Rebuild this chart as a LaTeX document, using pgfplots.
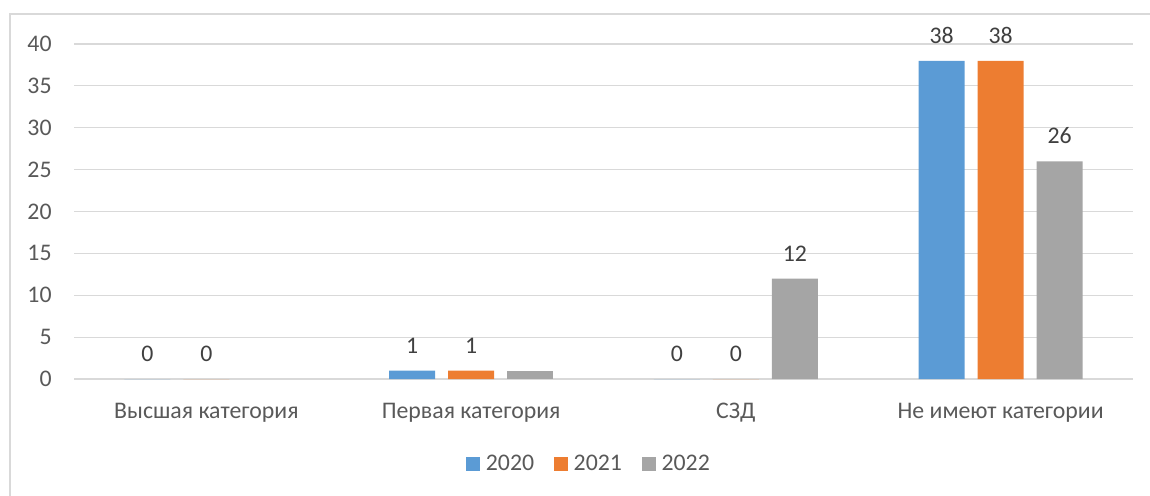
\documentclass[border=0pt]{standalone}
\usepackage{pgfplots}
\pgfplotsset{compat=1.18}
\usepackage{fontspec}
\setmainfont{Carlito}
\definecolor{c2020}{HTML}{5B9BD5}
\definecolor{c2021}{HTML}{ED7D31}
\definecolor{c2022}{HTML}{A5A5A5}
\definecolor{gridc}{HTML}{D9D9D9}
\definecolor{tickc}{HTML}{595959}
\definecolor{labc}{HTML}{404040}
\newcommand{\cf}{\fontsize{11.9}{14.3}\selectfont}
\begin{document}
\begin{tikzpicture}
\useasboundingbox (0,0) rectangle (575pt,247.5pt);
\begin{scope}
\clip (0,0) rectangle (575pt,247.5pt);
\draw[gridc, line width=0.6pt] (5pt,-10pt) rectangle (600pt,240.5pt);
\end{scope}
\begin{axis}[
  at={(37pt,58pt)}, anchor=south west,
  scale only axis,
  width=529.5pt, height=167.5pt,
  xmin=-0.5, xmax=3.5, ymin=0, ymax=40,
  ybar, bar width=23pt,
  xtick={0,1,2,3},
  xticklabels={Высшая категория, Первая категория, СЗД, Не имеют категории},
  ytick={0,5,...,40},
  ymajorgrids, grid style={gridc, line width=0.6pt},
  axis line style={draw=none},
  major tick length=0pt,
  /pgf/number format/assume math mode=true,
  xticklabel style={font=\cf, text=tickc, anchor=base, inner sep=0pt, yshift=-19.5pt},
  yticklabel style={font=\cf, text=tickc, anchor=east, inner sep=0pt, xshift=-11pt},
  nodes near coords style={font=\cf, text=labc, anchor=base, inner sep=0pt, yshift=8.75pt},
  legend columns=3,
  legend style={draw=none, fill=none, font=\cf, text=tickc,
    at={(0.4873,-0.2537)}, anchor=center,
    /tikz/every odd column/.append style={column sep=0.8pt},
    /tikz/every even column/.append style={column sep=8pt}},
  legend image code/.code={\fill[#1] (0pt,-3.5pt) rectangle (7pt,3.5pt);},
]
\addplot[fill=c2020, draw=none, bar shift=-29.5pt, nodes near coords] coordinates {(0,0) (1,1) (2,0) (3,38)};
\addlegendentry{2020}
\addplot[fill=c2021, draw=none, bar shift=0pt, nodes near coords] coordinates {(0,0) (1,1) (2,0) (3,38)};
\addlegendentry{2021}
\addplot[fill=c2022, draw=none, bar shift=29.5pt, nodes near coords] coordinates {(2,12) (3,26)};
\addlegendentry{2022}
\addplot[fill=c2022, draw=none, bar shift=29.5pt, forget plot] coordinates {(1,1)};
\end{axis}
\end{tikzpicture}
\end{document}
